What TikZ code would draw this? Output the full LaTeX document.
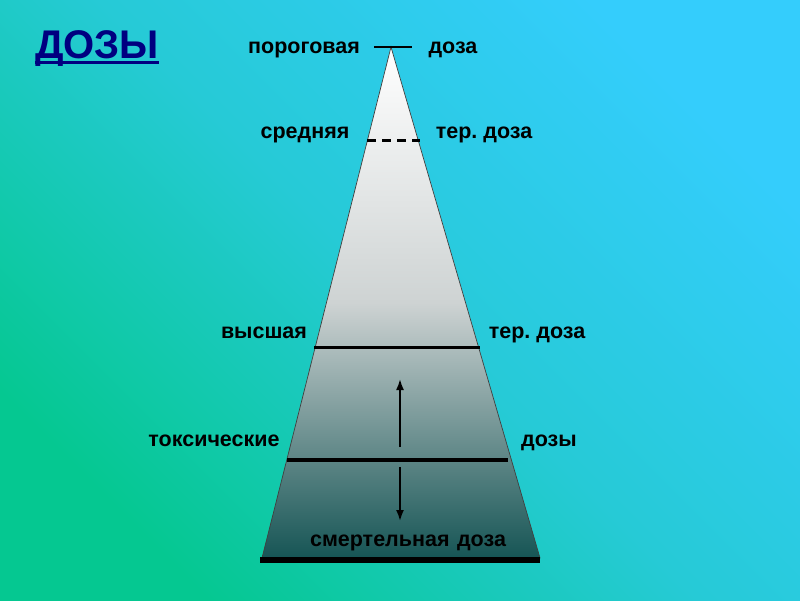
\documentclass[tikz,border=0pt]{standalone}
\usepackage{fontspec}
\setmainfont{Liberation Sans}
\frenchspacing
\usetikzlibrary{arrows.meta}
\definecolor{bgbottom}{RGB}{5,200,145}
\definecolor{bgmid}{RGB}{38,202,214}
\definecolor{bgtop}{RGB}{52,205,252}
\definecolor{navytitle}{RGB}{0,0,128}
\definecolor{pyrbottom}{RGB}{22,85,85}
\definecolor{pyrmid}{RGB}{206,211,211}

\begin{document}
\begin{tikzpicture}[x=1pt,y=-1pt]
  \tikzset{lbl/.style = {anchor=base,inner sep=0pt,font=\bfseries\fontsize{21.5}{25}\selectfont}}
  \tikzset{level/.style = {draw=black,line width=3pt}}
  \tikzset{edge/.style = {-{Latex[length=11pt,width=8pt]},line width=1.8pt}}

	\shade[shading=axis,bottom color=bgbottom,top color=bgtop,middle color=bgmid,shading angle=-45] (0,0) rectangle (800,600);
	\useasboundingbox (0,0) rectangle (800,600);

	\node[anchor=base,inner sep=0pt,text=navytitle,font=\bfseries\fontsize{40}{42}\selectfont] (title) at (97,58) {ДОЗЫ};
	\draw[navytitle,line width=2.8pt] ([yshift=-4.5pt]title.base west) -- ([yshift=-4.5pt]title.base east);

	\shade[top color=white,bottom color=pyrbottom,middle color=pyrmid] (391,47) -- (540,558) -- (262,558) -- cycle;
	\draw[black!75,line width=0.7pt] (391,47) -- (540,558) -- (262,558) -- cycle;

	\draw[level,line width=2pt] (374,47) -- (412,47);
	\draw[level,dash pattern=on 9pt off 6pt] (367,140) -- (420,140);
	\draw[level] (314,347) -- (480,347);
	\draw[level,line width=4.5pt] (287,460) -- (508,460);
	\draw[level,line width=6pt] (260,560) -- (540,560);

	\node[lbl] (thrL) at (304,53) {пороговая};
	\node[lbl] (thrR) at (453,53) {доза};
	\node[lbl] (midL) at (305,138) {средняя};
	\node[lbl] (midR) at (484,138) {тер. доза};
	\node[lbl] (maxL) at (264,338) {высшая};
	\node[lbl] (maxR) at (537,338) {тер. доза};
	\node[lbl] (toxL) at (214,446) {токсические};
	\node[lbl] (toxR) at (549,446) {дозы};
	\node[lbl] (lethal) at (408,546) {смертельная\hspace{0.35em}доза};

	\coordinate (upA) at (400,447);
	\coordinate (upB) at (400,379);
	\coordinate (dnA) at (400,467);
	\coordinate (dnB) at (400,521);
	\foreach \from/\to in {upA/upB, dnA/dnB}
	\draw[edge] (\from) -- (\to);

\end{tikzpicture}
\end{document}
